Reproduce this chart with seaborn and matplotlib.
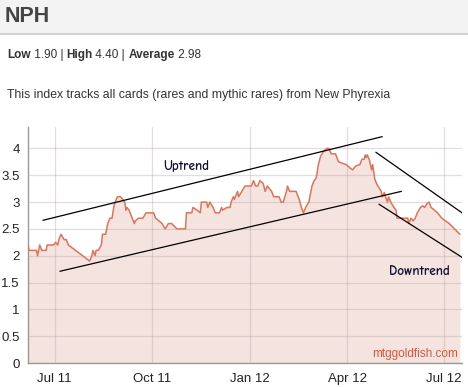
import matplotlib

matplotlib.use("Agg")
import matplotlib.pyplot as plt
import numpy as np
import pandas as pd
import seaborn as sns
from matplotlib.patches import Rectangle

# NPH index price history
dates = [
    "2011-06-06", "2011-06-07", "2011-06-14", "2011-06-15", "2011-06-17", "2011-06-19",
    "2011-06-23", "2011-06-24", "2011-06-30", "2011-07-02", "2011-07-04", "2011-07-05",
    "2011-07-07", "2011-07-10", "2011-07-12", "2011-07-14", "2011-08-03", "2011-08-05",
    "2011-08-06", "2011-08-08", "2011-08-09", "2011-08-11", "2011-08-14", "2011-08-15",
    "2011-08-18", "2011-08-20", "2011-08-22", "2011-08-24", "2011-08-26", "2011-08-29",
    "2011-09-01", "2011-09-03", "2011-09-05", "2011-09-06", "2011-09-07", "2011-09-09",
    "2011-09-12", "2011-09-14", "2011-09-15", "2011-09-18", "2011-09-22", "2011-09-25",
    "2011-10-02", "2011-10-04", "2011-10-10", "2011-10-13", "2011-10-16", "2011-10-19",
    "2011-10-24", "2011-11-01", "2011-11-02", "2011-11-07", "2011-11-08", "2011-11-12",
    "2011-11-15", "2011-11-16", "2011-11-21", "2011-11-22", "2011-11-24", "2011-11-27",
    "2011-11-29", "2011-12-03", "2011-12-05", "2011-12-06", "2011-12-10", "2011-12-13",
    "2011-12-14", "2011-12-16", "2011-12-17", "2011-12-20", "2011-12-21", "2011-12-24",
    "2011-12-27", "2012-01-02", "2012-01-04", "2012-01-06", "2012-01-08", "2012-01-10",
    "2012-01-13", "2012-01-15", "2012-01-17", "2012-01-21", "2012-01-23", "2012-01-28",
    "2012-01-30", "2012-02-01", "2012-02-04", "2012-02-05", "2012-02-07", "2012-02-08",
    "2012-02-13", "2012-02-16", "2012-02-18", "2012-02-20", "2012-02-22", "2012-02-25",
    "2012-02-28", "2012-03-01", "2012-03-03", "2012-03-05", "2012-03-07", "2012-03-10",
    "2012-03-13", "2012-03-15", "2012-03-17", "2012-03-21", "2012-03-24", "2012-03-31",
    "2012-04-06", "2012-04-09", "2012-04-13", "2012-04-15", "2012-04-17", "2012-04-18",
    "2012-04-19", "2012-04-20", "2012-04-22", "2012-04-24", "2012-04-25", "2012-04-27",
    "2012-04-29", "2012-05-03", "2012-05-04", "2012-05-06", "2012-05-07", "2012-05-09",
    "2012-05-10", "2012-05-12", "2012-05-15", "2012-05-17", "2012-05-18", "2012-05-23",
    "2012-05-28", "2012-05-29", "2012-05-31", "2012-06-02", "2012-06-04", "2012-06-06",
    "2012-06-09", "2012-06-11", "2012-06-13", "2012-06-15", "2012-06-17", "2012-06-19",
    "2012-06-22", "2012-06-25", "2012-06-29", "2012-07-06", "2012-07-16",
]
prices = [
    2.2, 2.1, 2.1, 2.0, 2.2, 2.1,
    2.1, 2.2, 2.2, 2.25, 2.2, 2.3,
    2.4, 2.3, 2.3, 2.2, 1.9, 2.0,
    2.1, 2.0, 2.1, 2.1, 2.2, 2.4,
    2.4, 2.6, 2.7, 2.7, 2.95, 3.1,
    3.1, 3.05, 3.0, 2.85, 2.9, 2.85,
    2.7, 2.6, 2.65, 2.7, 2.7, 2.8,
    2.8, 2.7, 2.6, 2.5, 2.6, 2.6,
    2.5, 2.5, 2.8, 2.8, 2.9, 2.85,
    2.8, 3.0, 3.0, 2.9, 3.0, 2.9,
    2.8, 2.8, 2.9, 2.85, 2.9, 2.9,
    3.0, 3.1, 3.05, 3.2, 3.1, 3.2,
    3.3, 3.3, 3.4, 3.3, 3.3, 3.4,
    3.35, 3.2, 3.3, 3.2, 3.1, 3.1,
    3.0, 3.0, 3.2, 3.3, 3.2, 3.2,
    3.2, 3.05, 2.9, 2.8, 2.9, 3.0,
    3.3, 3.4, 3.45, 3.7, 3.85, 3.95,
    4.0, 4.0, 3.9, 3.9, 3.75, 3.7,
    3.6, 3.67, 3.7, 3.8, 3.8, 3.88,
    3.83, 3.88, 3.78, 3.6, 3.7, 3.43,
    3.33, 3.2, 3.1, 3.18, 3.1, 3.0,
    3.1, 3.0, 2.9, 2.85, 2.7, 2.7,
    2.7, 2.6, 2.7, 2.65, 2.7, 2.8,
    2.9, 2.93, 2.9, 2.97, 3.0, 2.9,
    2.85, 2.8, 2.7, 2.6, 2.4,
]

# hand-drawn trend lines: (start date, start value, end date, end value)
trend_lines = [
    ("2011-06-20", 2.66, "2012-05-04", 4.22),
    ("2011-07-06", 1.71, "2012-05-22", 3.20),
    ("2012-04-28", 3.93, "2012-07-18", 2.80),
    ("2012-05-01", 2.96, "2012-07-18", 1.97),
]
trend_labels = [("Uptrend", "2011-11-02", 3.68), ("Downtrend", "2012-06-08", 1.70)]

tick_dates = ["2011-07-01", "2011-10-01", "2012-01-01", "2012-04-01", "2012-07-01"]
tick_labels = ["Jul 11", "Oct 11", "Jan 12", "Apr 12", "Jul 12"]
y_ticks = [0, 0.5, 1, 1.5, 2, 2.5, 3, 3.5, 4]
x_range = ("2011-06-06", "2012-07-18")

df = pd.DataFrame({"date": pd.to_datetime(dates), "price": prices})

sns.set_style("white")
plt.rcParams["font.family"] = ["Liberation Sans", "DejaVu Sans"]

W, H = 468, 387
fig = plt.figure(figsize=(W / 100, H / 100), dpi=100)


def fx(px):
    return px / W


def fy(py):
    return 1 - py / H


# header band
fig.patches.append(Rectangle((0, fy(34)), 1, 1 - fy(34), transform=fig.transFigure,
                             facecolor="#f3f3f3", edgecolor="none", zorder=0))
fig.lines.append(plt.Line2D([0, 1], [fy(34), fy(34)], transform=fig.transFigure,
                            color="#c9c9c9", linewidth=1.2))
fig.text(fx(5), fy(17), "NPH", fontsize=15.5, fontweight="bold", color="#444444",
         va="center", ha="left")

# stats line with mixed weights
renderer = fig.canvas.get_renderer()
x_cursor = fx(7)
pieces = [("Low", "bold"), (" 1.90 | ", "normal"), ("High", "bold"), (" 4.40 | ", "normal"),
          ("Average", "bold"), (" 2.98", "normal")]
for txt, weight in pieces:
    t = fig.text(x_cursor, fy(55), txt, fontsize=8.5, fontweight=weight, color="#333333",
                 va="center", ha="left")
    bb = t.get_window_extent(renderer)
    x_cursor += bb.width / W

fig.text(fx(7), fy(95), "This index tracks all cards (rares and mythic rares) from New Phyrexia",
         fontsize=8.8, color="#333333", va="center", ha="left")

ax = fig.add_axes([fx(28), fy(363), fx(462) - fx(28), fy(127) - fy(363)])

line_color = "#d9755b"
ax.fill_between(df["date"], df["price"], 0, color="#f5e3df", linewidth=0, zorder=1)
sns.lineplot(data=df, x="date", y="price", ax=ax, color=line_color, linewidth=1.1, zorder=3)

for d0, v0, d1, v1 in trend_lines:
    ax.plot(pd.to_datetime([d0, d1]), [v0, v1], color="black", linewidth=0.9, zorder=4)

for label, d, v in trend_labels:
    ax.text(pd.to_datetime(d), v, label, fontsize=9.5, fontweight="bold", color="#111133",
            ha="center", va="center", family=["Comic Neue", "Lato", "DejaVu Sans"], zorder=5)

ax.text(0.99, 0.04, "mtggoldfish.com", transform=ax.transAxes, ha="right", va="center",
        fontsize=8.5, color="#cc5a40", zorder=5)

ax.set_xlim(pd.to_datetime(x_range[0]), pd.to_datetime(x_range[1]))
ax.set_ylim(0, 4.4)
ax.set_xticks(pd.to_datetime(tick_dates))
ax.set_xticklabels(tick_labels)
ax.set_yticks(y_ticks)
ax.set_yticklabels([f"{v:g}" for v in y_ticks])
ax.tick_params(axis="both", length=0, labelsize=9.5, colors="#222222")
ax.tick_params(axis="x", pad=7)
ax.tick_params(axis="y", pad=6)
ax.set_xlabel("")
ax.set_ylabel("")
ax.grid(True, color="#b0a0a0", alpha=0.35, linewidth=0.9, zorder=2)
ax.set_axisbelow(False)
for side in ["top", "right"]:
    ax.spines[side].set_visible(False)
for side in ["left", "bottom"]:
    ax.spines[side].set_color("#999999")
    ax.spines[side].set_linewidth(1.0)

fig.savefig("out.png", dpi=100)
